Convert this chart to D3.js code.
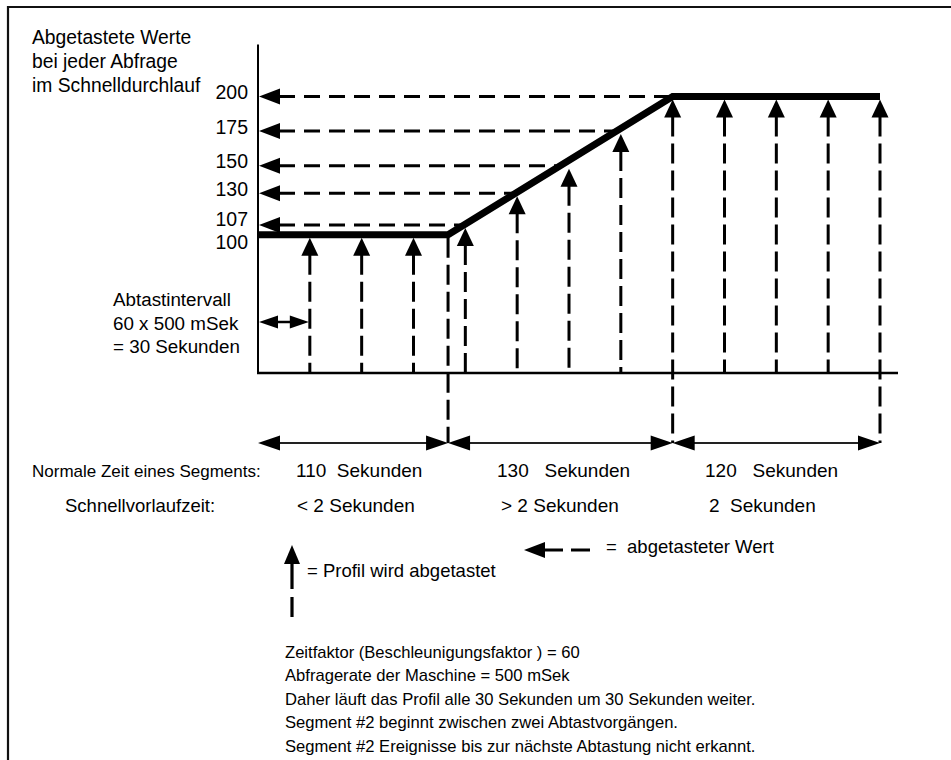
<!DOCTYPE html>
<html>
<head>
<meta charset="utf-8">
<script src="https://cdn.jsdelivr.net/npm/d3@7"></script>
<style>
  html, body { margin: 0; padding: 0; background: #fff; overflow: hidden; }
  svg text { font-family: "Liberation Sans", Arial, Helvetica, sans-serif; fill: #000; white-space: pre; }
</style>
</head>
<body>
<svg id="chart" width="951" height="760"></svg>
<script>
// Profile breakpoints: time in seconds and set value
const profileTimes = [0, 110, 240, 360];
const profileValues = [100, 100, 200, 200];

// Sampling instants (every 30 s) and the value read at each one
const sampleTimes = [30, 60, 90, 120, 150, 180, 210, 240, 270, 300, 330, 360];
const sampleValues = [100, 100, 100, 107, 130, 150, 175, 200, 200, 200, 200, 200];

// Values fed back to the axis (dashed arrows)
const readValues = [200, 175, 150, 130, 107];
const tickValues = [100, 107, 130, 150, 175, 200];

// Segments
const segmentBounds = [0, 110, 240, 360];
const segmentNormal = ["110  Sekunden", "130   Sekunden", "120   Sekunden"];
const segmentFast = ["< 2 Sekunden", "> 2 Sekunden", "2  Sekunden"];
const rowLabels = ["Normale Zeit eines Segments:", "Schnellvorlaufzeit:"];

// Text blocks
const titleLines = ["Abgetastete Werte", "bei jeder Abfrage", "im Schnelldurchlauf"];
const intervalLines = ["Abtastintervall", "60 x 500 mSek", "= 30 Sekunden"];
const intervalSpan = [0, 30];
const legendSample = "= Profil wird abgetastet";
const legendRead = "=  abgetasteter Wert";
const noteLines = [
  "Zeitfaktor (Beschleunigungsfaktor ) = 60",
  "Abfragerate der Maschine = 500 mSek",
  "Daher läuft das Profil alle 30 Sekunden um 30 Sekunden weiter.",
  "Segment #2 beginnt zwischen zwei Abtastvorgängen.",
  "Segment #2 Ereignisse bis zur nächste Abtastung nicht erkannt."
];

const svg = d3.select("#chart");

// Scales
const x = d3.scaleLinear().domain([0, 360]).range([258, 880]);
const y = d3.scaleLinear().domain([0, 200]).range([373, 96.5]);
const profileAt = d3.scaleLinear().domain(profileTimes).range(profileValues);
// time at which the rising part of the profile reaches a value
const timeAtValue = d3.scaleLinear()
  .domain([profileValues[1], profileValues[2]])
  .range([profileTimes[1], profileTimes[2]]).clamp(true);

const ink = "#000";
const rowY = 443;

// Filled triangle arrow head; dir is the pointing direction
function head(g, tx, ty, dir, len, half) {
  let p;
  if (dir === "left")  p = [[tx, ty], [tx + len, ty - half], [tx + len, ty + half]];
  if (dir === "right") p = [[tx, ty], [tx - len, ty - half], [tx - len, ty + half]];
  if (dir === "up")    p = [[tx, ty], [tx - half, ty + len], [tx + half, ty + len]];
  g.append("path").attr("d", "M" + p.join("L") + "Z").attr("fill", ink);
}

// Frame
svg.append("path")
  .attr("d", "M8,762V7H953")
  .attr("fill", "none").attr("stroke", "#111").attr("stroke-width", 2.2);

// Axes
svg.append("line")
  .attr("x1", x(0)).attr("x2", x(0))
  .attr("y1", y(0)).attr("y2", y(200) - 52)
  .attr("stroke", ink).attr("stroke-width", 2);
svg.append("line")
  .attr("x1", x(0) - 1).attr("x2", x(360) + 18)
  .attr("y1", y(0)).attr("y2", y(0))
  .attr("stroke", ink).attr("stroke-width", 2.5);

const yAxis = svg.append("g")
  .attr("transform", `translate(${x(0)},0)`)
  .call(d3.axisLeft(y).tickValues(tickValues).tickSize(0).tickPadding(10).tickFormat(d3.format("d")));
yAxis.select(".domain").remove();
yAxis.selectAll("text")
  .style("font-family", "\"Liberation Sans\", Arial, sans-serif")
  .attr("font-size", 19.5)
  .attr("fill", ink)
  .attr("dy", d => d === 100 ? "0.72em" : d === 107 ? "0.04em" : "0.12em");

// Read-back arrows: dashed line from the profile to the axis
const readG = svg.append("g");
readValues.forEach(v => {
  const xe = x(timeAtValue(v));
  readG.append("line")
    .attr("x1", x(0) + 21).attr("x2", xe)
    .attr("y1", y(v)).attr("y2", y(v))
    .attr("stroke", ink).attr("stroke-width", 3)
    .attr("stroke-dasharray", "16,9");
  head(readG, x(0) + 1, y(v), "left", 21, 8);
});

// Segment boundary at 110 s (no sample there)
segmentBounds.slice(1).forEach(t => {
  if (sampleTimes.includes(t)) return;
  svg.append("line")
    .attr("x1", x(t)).attr("x2", x(t))
    .attr("y1", y(profileAt(t)) + 3).attr("y2", rowY)
    .attr("stroke", ink).attr("stroke-width", 3)
    .attr("stroke-dasharray", "20,7");
});

// Profile
svg.append("path")
  .datum(profileTimes.map((t, i) => [t, profileValues[i]]))
  .attr("d", d3.line().x(d => x(d[0])).y(d => y(d[1])))
  .attr("fill", "none").attr("stroke", ink).attr("stroke-width", 7)
  .attr("stroke-linejoin", "miter");

// Sample arrows
const sampG = svg.append("g");
sampleTimes.forEach((t, i) => {
  const tip = y(sampleValues[i]) + 3;
  const bottom = segmentBounds.includes(t) ? rowY : y(0);
  sampG.append("line")
    .attr("x1", x(t)).attr("x2", x(t))
    .attr("y1", tip + 17).attr("y2", bottom)
    .attr("stroke", ink).attr("stroke-width", 3)
    .attr("stroke-dasharray", "20,7");
  head(sampG, x(t), tip, "up", 18, 8.5);
});

// Segment duration arrows and their labels
const normalX = [296, 497, 705];
const fastX = [297, 501, 709];
const segG = svg.append("g");
for (let i = 0; i < segmentBounds.length - 1; i++) {
  const a = x(segmentBounds[i]), b = x(segmentBounds[i + 1]);
  segG.append("line")
    .attr("x1", a + 18).attr("x2", b - 18)
    .attr("y1", rowY).attr("y2", rowY)
    .attr("stroke", "#222").attr("stroke-width", 2.2);
  head(segG, a, rowY, "left", 22, 7.5);
  head(segG, b, rowY, "right", 22, 7.5);
  segG.append("text").attr("x", normalX[i]).attr("y", 477)
    .attr("font-size", 19).text(segmentNormal[i]);
  segG.append("text").attr("x", fastX[i]).attr("y", 512)
    .attr("font-size", 19).text(segmentFast[i]);
}
svg.append("text").attr("x", 32).attr("y", 477).attr("font-size", 17).text(rowLabels[0]);
svg.append("text").attr("x", 65).attr("y", 512).attr("font-size", 18.5).text(rowLabels[1]);

// Sampling interval marker
const ia = x(intervalSpan[0]), ib = x(intervalSpan[1]);
svg.append("line").attr("x1", ia + 10).attr("x2", ib - 10).attr("y1", 322).attr("y2", 322)
  .attr("stroke", ink).attr("stroke-width", 2.5);
head(svg, ia + 1, 322, "left", 19, 6.5);
head(svg, ib - 1, 322, "right", 19, 6.5);
svg.append("g").selectAll("text").data(intervalLines).join("text")
  .attr("x", 113).attr("y", (d, i) => 306 + i * 23.5)
  .attr("font-size", 18.8).text(d => d);

// Title
svg.append("g").selectAll("text").data(titleLines).join("text")
  .attr("x", 32).attr("y", (d, i) => 44 + i * 24)
  .attr("font-size", 19.3).text(d => d);

// Legend
const lg = svg.append("g");
lg.append("line").attr("x1", 292).attr("x2", 292).attr("y1", 562).attr("y2", 617)
  .attr("stroke", ink).attr("stroke-width", 3.2).attr("stroke-dasharray", "27,8");
head(lg, 292, 545, "up", 19, 8);
lg.append("text").attr("x", 307).attr("y", 577).attr("font-size", 18.5).text(legendSample);

lg.append("line").attr("x1", 543).attr("x2", 590).attr("y1", 550).attr("y2", 550)
  .attr("stroke", ink).attr("stroke-width", 3).attr("stroke-dasharray", "20,8");
head(lg, 524, 550, "left", 21, 8);
lg.append("text").attr("x", 606).attr("y", 553).attr("font-size", 18.5).text(legendRead);

// Notes
svg.append("g").selectAll("text").data(noteLines).join("text")
  .attr("x", 285).attr("y", (d, i) => 658 + i * 23.4)
  .attr("font-size", 16.6).text(d => d);
</script>
</body>
</html>
